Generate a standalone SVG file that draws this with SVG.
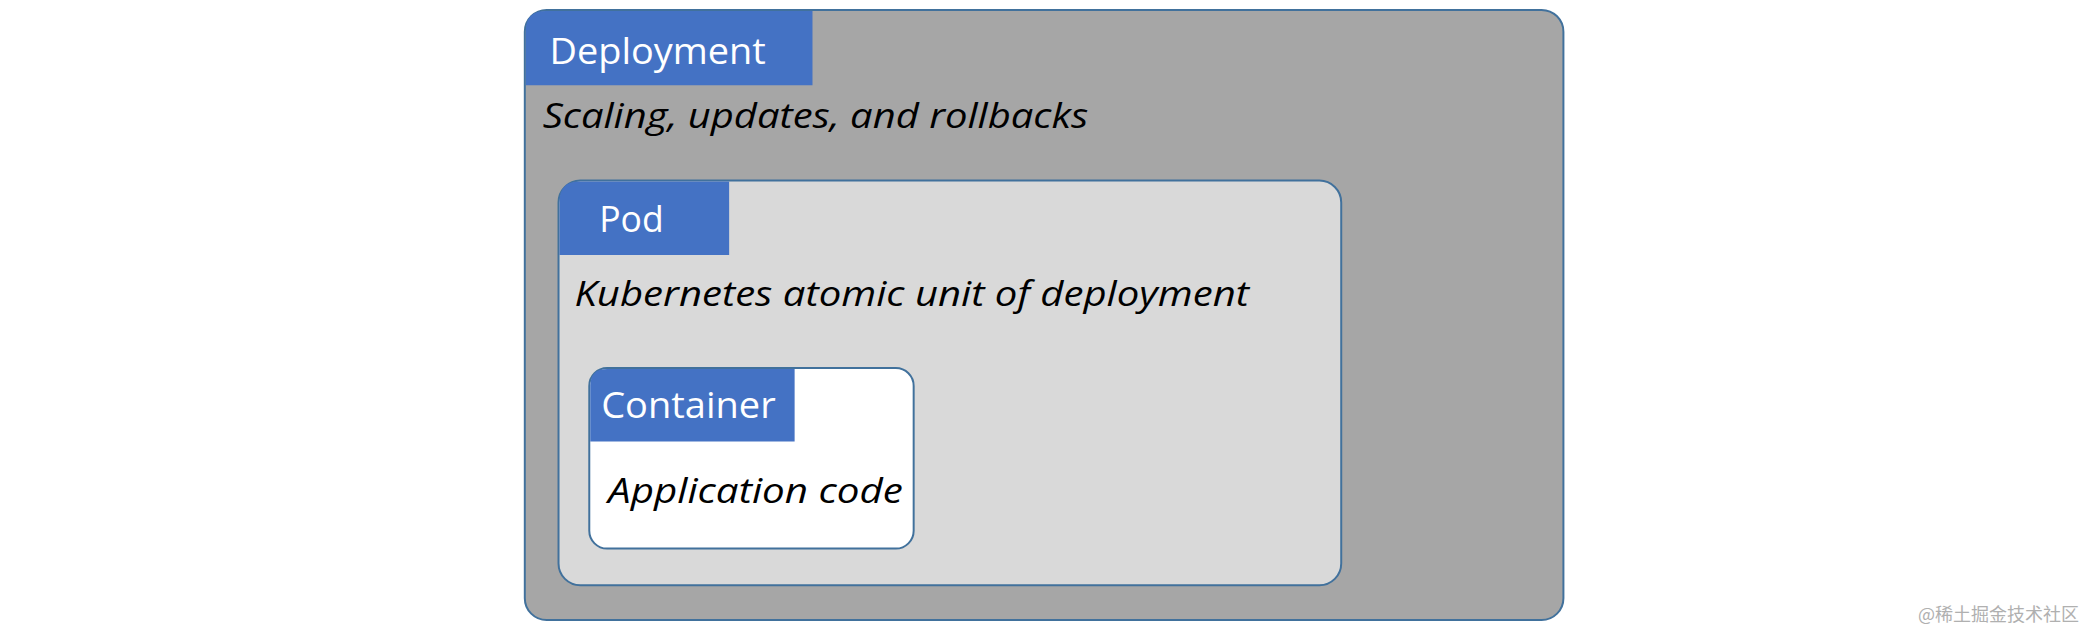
<svg xmlns="http://www.w3.org/2000/svg" width="2100" height="633" viewBox="0 0 2100 633">
<style>
.box{stroke:#41719C;stroke-width:2}
.tab{fill:#4472C4}
.t{font-family:"Open Sans","Liberation Sans",sans-serif;font-size:36px;fill:#fff}
.i{font-family:"Open Sans","Liberation Sans",sans-serif;font-size:34px;font-style:italic;fill:#000}
</style>
<rect width="2100" height="633" fill="#fff"/>
<g transform="translate(4,1) scale(0.992)">
<g id="deployment">
<rect class="box" x="525" y="9" width="1047" height="615" rx="22" fill="#A6A6A6"/>
<path class="tab" d="M526,30 Q526,10 546,10 L815,10 L815,85 L526,85 Z"/>
<text class="t" x="550" y="64" textLength="218" lengthAdjust="spacingAndGlyphs">Deployment</text>
<text class="i" x="543" y="128" textLength="550" lengthAdjust="spacingAndGlyphs">Scaling, updates, and rollbacks</text>
</g>
<g id="pod">
<rect class="box" x="559" y="181" width="789" height="408" rx="22" fill="#D9D9D9"/>
<path class="tab" d="M560,202 Q560,182 580,182 L731,182 L731,256 L560,256 Z"/>
<text class="t" x="600" y="233" textLength="65" lengthAdjust="spacingAndGlyphs">Pod</text>
<text class="i" x="575" y="307" textLength="680" lengthAdjust="spacingAndGlyphs">Kubernetes atomic unit of deployment</text>
</g>
<g id="container">
<rect class="box" x="590" y="370" width="327" height="182" rx="18" fill="#fff"/>
<path class="tab" d="M591,388 Q591,371 608,371 L797,371 L797,444 L591,444 Z"/>
<text class="t" x="602" y="420" textLength="176" lengthAdjust="spacingAndGlyphs">Container</text>
<text class="i" x="609" y="506" textLength="297" lengthAdjust="spacingAndGlyphs">Application code</text>
</g>
<g id="connectors"/>
</g>
<text x="1918" y="621" font-family="'Noto Sans CJK SC',sans-serif" font-size="18" fill="#B0B0B0">@稀土掘金技术社区</text>
</svg>
